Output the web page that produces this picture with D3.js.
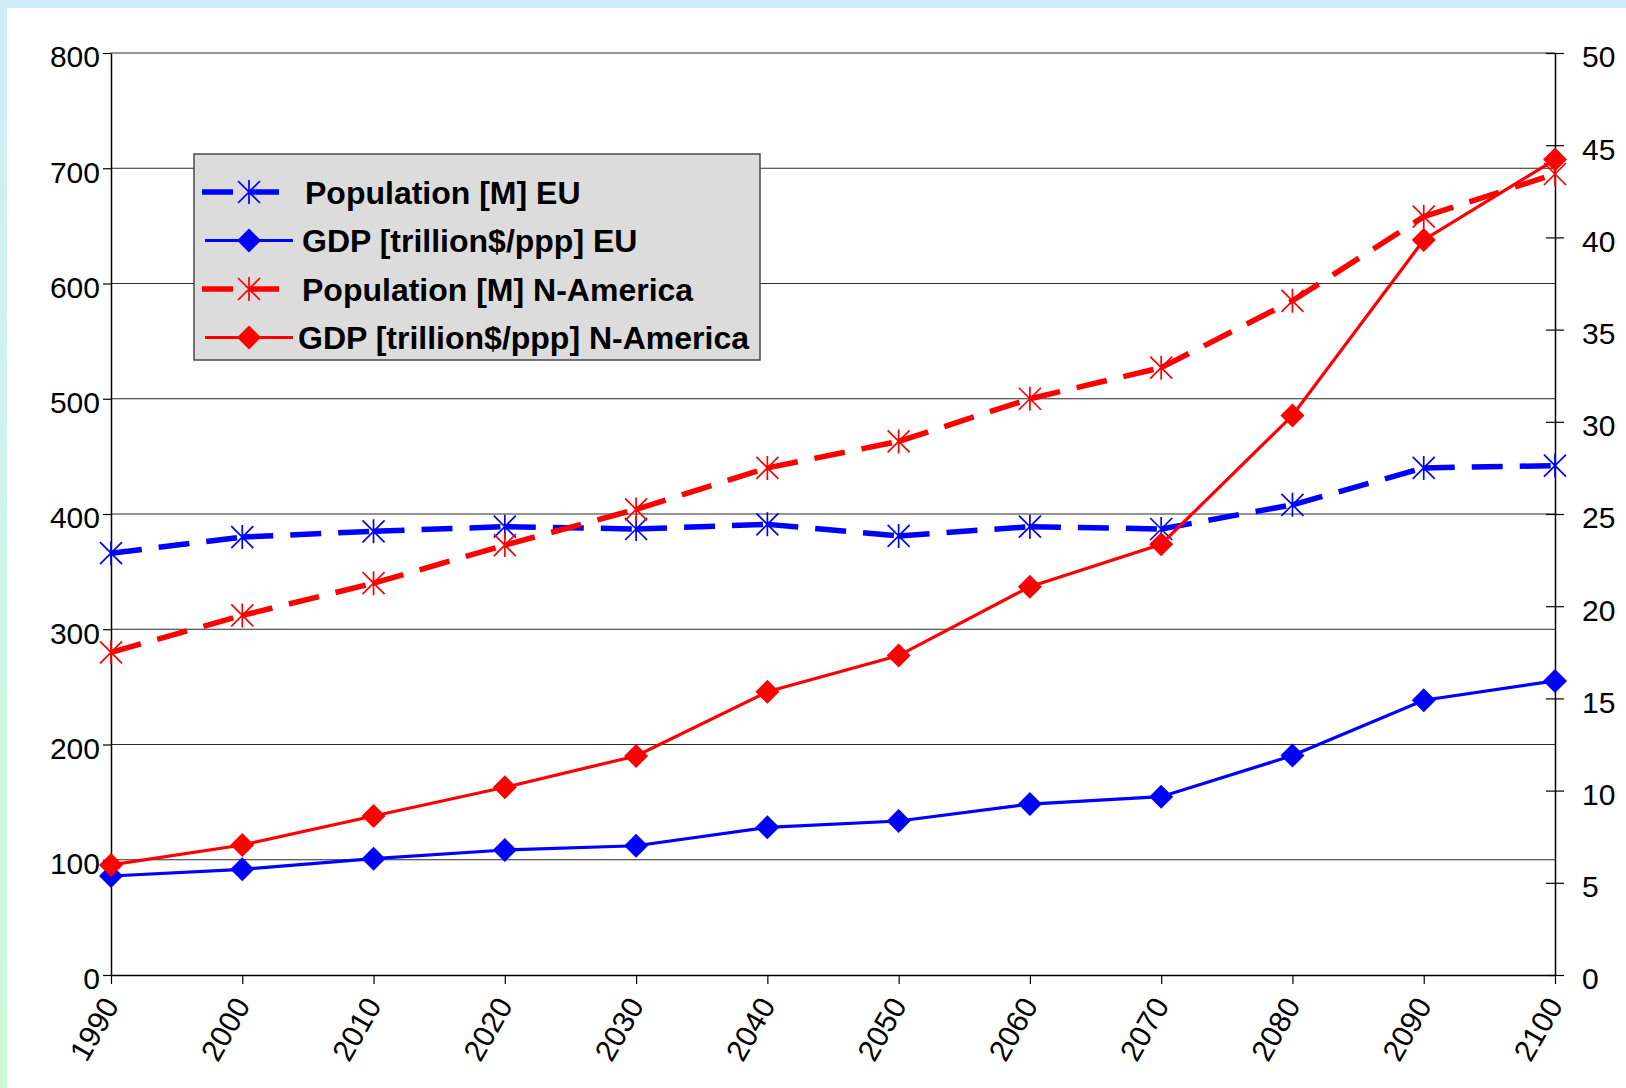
<!DOCTYPE html>
<html>
<head>
<meta charset="utf-8">
<script src="https://cdnjs.cloudflare.com/ajax/libs/d3/7.8.5/d3.min.js"></script>
<style>
  html, body { margin: 0; padding: 0; background: #fff; }
  svg { display: block; }
  text { font-family: "Liberation Sans", Arial, sans-serif; fill: #000; }
</style>
</head>
<body>
<svg id="chart" width="1626" height="1088"></svg>
<script>
// Projections for EU and North America, 1990–2100
const years = [1990, 2000, 2010, 2020, 2030, 2040, 2050, 2060, 2070, 2080, 2090, 2100];
const popEU = [366, 380, 385, 389, 387, 391, 381, 389, 387, 408, 440, 442];        // million people
const gdpEU = [5.37, 5.73, 6.31, 6.78, 7.01, 8.01, 8.35, 9.27, 9.67, 11.9, 14.9, 15.95]; // trillion $ (ppp)
const popNA = [280, 312, 340, 373, 404, 440, 463, 500, 527, 585, 658, 695];
const gdpNA = [5.97, 7.05, 8.62, 10.18, 11.88, 15.36, 17.32, 21.06, 23.36, 30.34, 39.86, 44.22];

const leftTicks = [0, 100, 200, 300, 400, 500, 600, 700, 800];
const rightTicks = [0, 5, 10, 15, 20, 25, 30, 35, 40, 45, 50];
const legendLabels = [
  "Population [M] EU",
  "GDP [trillion$/ppp] EU",
  "Population [M] N-America",
  "GDP [trillion$/ppp] N-America"
];

const BLUE = "#0000ff", RED = "#ff0000";
const W = 1626, H = 1088;
const plot = { left: 111, right: 1555, top: 53, bottom: 975 };
const FONT = "'Liberation Sans', Arial, sans-serif";

const svg = d3.select("#chart");

// Page backdrop: pale blue/green edge behind a white panel
const defs = svg.append("defs");
const grad = defs.append("linearGradient").attr("id", "edge")
  .attr("x1", 0).attr("y1", 0).attr("x2", 0).attr("y2", 1);
grad.append("stop").attr("offset", "0%").attr("stop-color", "#cdedfb");
grad.append("stop").attr("offset", "100%").attr("stop-color", "#cdfbd5");
svg.append("rect").attr("width", W).attr("height", H).attr("fill", "url(#edge)");
svg.append("rect").attr("x", 7).attr("y", 8).attr("width", W - 7).attr("height", H - 8).attr("fill", "#fff");

const x = d3.scaleLinear().domain([1990, 2100]).range([plot.left, plot.right]);
const yL = d3.scaleLinear().domain([0, 800]).range([plot.bottom, plot.top]);
const yR = d3.scaleLinear().domain([0, 50]).range([plot.bottom, plot.top]);

// Horizontal gridlines on the left-axis ticks
svg.append("g").selectAll("line")
  .data(leftTicks.filter(t => t > 0))
  .join("line")
  .attr("x1", plot.left).attr("x2", plot.right)
  .attr("y1", d => yL(d)).attr("y2", d => yL(d))
  .attr("stroke", "#2a2a2a").attr("stroke-width", 1.2);

// Left axis
const gL = svg.append("g").attr("transform", `translate(${plot.left},0)`)
  .call(d3.axisLeft(yL).tickValues(leftTicks).tickSizeInner(8).tickSizeOuter(0).tickPadding(3));
gL.selectAll("text").attr("font-size", 30).attr("dy", "0.36em").attr("y", 3)
  .style("font-family", FONT);

// Right axis (ticks cross the axis line)
const gR = svg.append("g").attr("transform", `translate(${plot.right},0)`)
  .call(d3.axisRight(yR).tickValues(rightTicks).tickSizeInner(9).tickSizeOuter(0).tickPadding(18));
gR.selectAll(".tick line").attr("x1", -9);
gR.selectAll("text").attr("font-size", 30).attr("dy", "0.36em").attr("y", 3)
  .style("font-family", FONT);

// Bottom axis with slanted year labels
const gB = svg.append("g").attr("transform", `translate(0,${plot.bottom})`)
  .call(d3.axisBottom(x).tickValues(years).tickFormat(d3.format("d")).tickSizeInner(9).tickSizeOuter(0));
gB.selectAll("text")
  .attr("font-size", 30)
  .style("font-family", FONT)
  .attr("text-anchor", "end")
  .attr("x", 0).attr("y", 0).attr("dy", "0.36em")
  .attr("transform", "translate(-1,25) rotate(-60)");

[gL, gR, gB].forEach(g => {
  g.selectAll(".domain").attr("stroke", "#000").attr("stroke-width", 1.5);
  g.selectAll(".tick line").attr("stroke", "#000").attr("stroke-width", 1.2);
});

// Marker shapes
const starPath = "M0,-12V12M-11,-11L11,11M-11,11L11,-11";
const diamondPath = "M0,-12L12,0L0,12L-12,0Z";

function drawDashed(values, yScale, color) {
  const g = svg.append("g");
  const line = d3.line();
  for (let i = 0; i < years.length - 1; i++) {
    // each segment restarts the dash pattern at its data point
    g.append("path")
      .attr("d", line([[x(years[i]), yScale(values[i])], [x(years[i + 1]), yScale(values[i + 1])]]))
      .attr("fill", "none").attr("stroke", color).attr("stroke-width", 5.5)
      .attr("stroke-dasharray", "31,17");
  }
  g.selectAll(".m").data(values).join("path")
    .attr("transform", (d, i) => `translate(${x(years[i])},${yScale(d)})`)
    .attr("d", starPath).attr("fill", "none").attr("stroke", color).attr("stroke-width", 1.7);
}

function drawSolid(values, yScale, color) {
  const g = svg.append("g");
  g.append("path")
    .attr("d", d3.line().x((d, i) => x(years[i])).y(d => yScale(d))(values))
    .attr("fill", "none").attr("stroke", color).attr("stroke-width", 3.2);
  g.selectAll(".m").data(values).join("path")
    .attr("transform", (d, i) => `translate(${x(years[i])},${yScale(d)})`)
    .attr("d", diamondPath).attr("fill", color);
}

drawDashed(popEU, yL, BLUE);
drawSolid(gdpEU, yR, BLUE);
drawDashed(popNA, yL, RED);
drawSolid(gdpNA, yR, RED);

// Legend
const lg = svg.append("g");
lg.append("rect").attr("x", 194).attr("y", 154).attr("width", 566).attr("height", 206)
  .attr("fill", "#dcdcdc").attr("stroke", "#4a4a4a").attr("stroke-width", 1.5);
const legendItems = [
  { color: BLUE, dashed: true },
  { color: BLUE, dashed: false },
  { color: RED, dashed: true },
  { color: RED, dashed: false }
];
const textX = [305, 302, 302, 298];
legendItems.forEach((it, i) => {
  const cy = 192 + i * 48.5;
  if (it.dashed) {
    lg.append("line").attr("x1", 202).attr("x2", 279).attr("y1", cy).attr("y2", cy)
      .attr("stroke", it.color).attr("stroke-width", 5.5).attr("stroke-dasharray", "31,17");
    lg.append("path").attr("transform", `translate(249,${cy})`).attr("d", starPath)
      .attr("fill", "none").attr("stroke", it.color).attr("stroke-width", 1.7);
  } else {
    lg.append("line").attr("x1", 205).attr("x2", 293).attr("y1", cy).attr("y2", cy)
      .attr("stroke", it.color).attr("stroke-width", 3.2);
    lg.append("path").attr("transform", `translate(249,${cy})`).attr("d", diamondPath)
      .attr("fill", it.color);
  }
  lg.append("text").attr("x", textX[i]).attr("y", cy).attr("dy", "0.36em")
    .attr("font-size", 32).attr("font-weight", "bold")
    .style("font-family", FONT)
    .text(legendLabels[i]);
});
</script>
</body>
</html>
